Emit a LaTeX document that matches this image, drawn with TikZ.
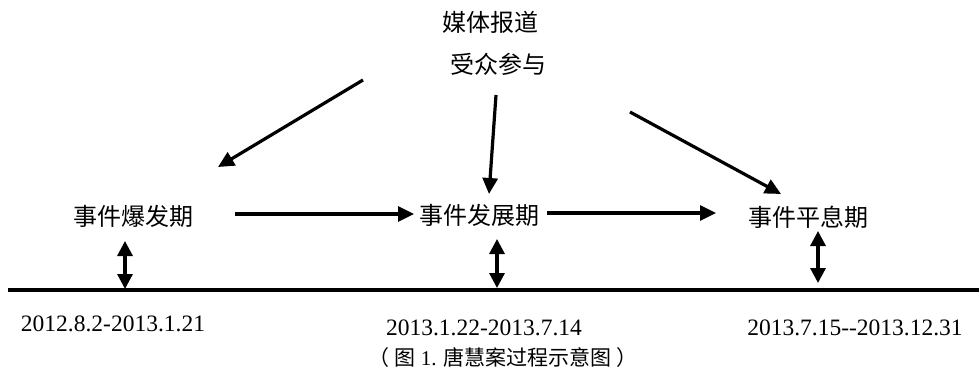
\documentclass[tikz,border=0pt]{standalone}
\usepackage{fontspec}
\setmainfont{Liberation Serif}
\newfontfamily\cjk{Noto Sans CJK SC}
\usetikzlibrary{arrows.meta}
\begin{document}
\begin{tikzpicture}[x=1pt,y=-1pt,
  cn/.style={font=\cjk\fontsize{24}{28}\selectfont, inner sep=0pt},
  dt/.style={font=\fontsize{23.5}{27}\selectfont, inner sep=0pt},
  captext/.style={font=\fontsize{21}{25}\selectfont, inner sep=0pt},
  arr/.style={line width=3.2pt, -{Triangle[length=16pt,width=15pt]}},
  darr/.style={line width=3.2pt, {Triangle[length=15pt,width=15pt]}-{Triangle[length=15pt,width=15pt]}},
  tline/.style={line width=3.5pt}]
\useasboundingbox (0,0) rectangle (979,383);
% top labels
\node[cn] (media) at (490,22) {媒体报道};
\node[cn] (aud) at (498,64) {受众参与};
% stage labels
\node[cn] (s1) at (133,216) {事件爆发期};
\node[cn] (s2) at (479,215) {事件发展期};
\node[cn] (s3) at (808,217) {事件平息期};
% arrow endpoints
\coordinate (t1) at (363,80);
\coordinate (e1) at (218,167);
\coordinate (t2) at (496,95);
\coordinate (e2) at (489,194);
\coordinate (t3) at (630,112);
\coordinate (e3) at (781,194);
\draw[arr] (t1) -- (e1);
\draw[arr] (t2) -- (e2);
\draw[arr] (t3) -- (e3);
% horizontal arrows
\coordinate (h1a) at (235,214);
\coordinate (h1b) at (414,214);
\coordinate (h2a) at (547,213);
\coordinate (h2b) at (716,213);
\draw[arr] (h1a) -- (h1b);
\draw[arr] (h2a) -- (h2b);
% timeline
\coordinate (L) at (8,290);
\coordinate (R) at (979,290);
\draw[tline] (L) -- (R);
% double arrows
\coordinate (d1a) at (125,241);
\coordinate (d1b) at (125,289);
\coordinate (d2a) at (497,239);
\coordinate (d2b) at (497,288);
\coordinate (d3a) at (818,231);
\coordinate (d3b) at (818,283);
\draw[darr] (d1a) -- (d1b);
\draw[darr] (d2a) -- (d2b);
\draw[darr] (d3a) -- (d3b);
% dates
\node[dt] (date1) at (113,324) {2012.8.2-2013.1.21};
\node[dt] (date2) at (484,328) {2013.1.22-2013.7.14};
\node[dt] (date3) at (855,328) {2013.7.15-{}-2013.12.31};
% caption
\node[captext] (caption) at (503,358) {{\cjk （\ 图} 1. {\cjk 唐慧案过程示意图\ ）}};
\end{tikzpicture}
\end{document}
